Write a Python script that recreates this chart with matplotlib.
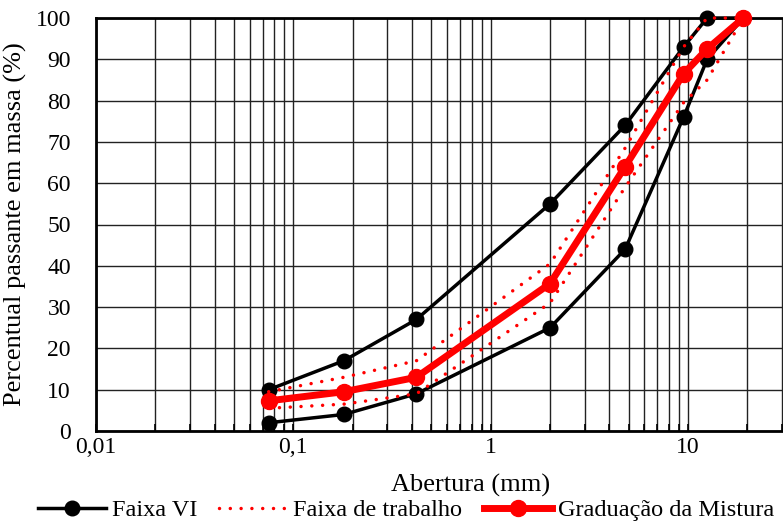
import matplotlib
matplotlib.use("Agg")
import matplotlib.pyplot as plt
from matplotlib.ticker import FixedLocator, FixedFormatter, LogLocator, NullFormatter

# Data
sieves = [0.075, 0.18, 0.42, 2.0, 4.8, 9.5, 12.5, 19.1]
faixa_vi_upper = [10, 17, 27, 55, 74, 93, 100, 100]
faixa_vi_lower = [2, 4, 9, 25, 44, 76, 90, 100]
trabalho_upper = [9.5, 13, 17, 40.5, 68.5, 93, 100, 100]
trabalho_lower = [5.5, 6.5, 9, 31, 59, 79.5, 85, 100]
mistura = [7.3, 9.5, 13, 35.7, 64, 86.5, 92.5, 100]

xticks = [0.01, 0.1, 1, 10]
xticklabels = ["0,01", "0,1", "1", "10"]
yticks = list(range(0, 101, 10))

plt.rcParams['font.family'] = ['Liberation Serif', 'DejaVu Serif']
plt.rcParams['font.size'] = 17

fig = plt.figure(figsize=(7.83, 5.21), dpi=100)
ax = fig.add_axes([96/783, 1 - 431/521, 1 - 96/783, (431 - 18)/521])

# Faixa VI
ax.plot(sieves, faixa_vi_upper, color='black', lw=2.5, marker='o', ms=10.5, zorder=3,
        clip_on=False)
ax.plot(sieves, faixa_vi_lower, color='black', lw=2.5, marker='o', ms=10.5, zorder=3,
        clip_on=False, label='Faixa VI')
# Faixa de trabalho
dot = (0, (0.01, 3.1))
ax.plot(sieves, trabalho_upper, color='red', lw=2.5, linestyle=dot,
        dash_capstyle='round', zorder=4, clip_on=False)
ax.plot(sieves, trabalho_lower, color='red', lw=2.5, linestyle=dot,
        dash_capstyle='round', zorder=4, clip_on=False, label='Faixa de trabalho')
# Mistura
ax.plot(sieves, mistura, color='red', lw=5, marker='o', ms=11.5, zorder=5,
        clip_on=False, label='Graduação da Mistura')

ax.set_xscale('log')
ax.set_xlim(0.01, 10 ** (1 + 95 / 197.3))
ax.set_ylim(0, 100)

ax.xaxis.set_major_locator(FixedLocator(xticks))
ax.xaxis.set_major_formatter(FixedFormatter(xticklabels))
ax.xaxis.set_minor_locator(LogLocator(base=10, subs=range(2, 10), numticks=20))
ax.xaxis.set_minor_formatter(NullFormatter())
ax.set_yticks(yticks)

ax.grid(True, which='both', axis='x', color='#222222', lw=1.0)
ax.grid(True, which='major', axis='y', color='#222222', lw=1.0)
ax.set_axisbelow(True)

ax.tick_params(axis='x', which='both', direction='in', length=5, width=1.2, pad=4)
ax.tick_params(axis='y', which='both', direction='in', length=0, pad=18)

for s in ['left', 'bottom', 'top']:
    ax.spines[s].set_linewidth(2)
    ax.spines[s].set_color('black')
ax.spines['right'].set_visible(False)

ax.set_ylabel('Percentual passante em massa (%)', fontsize=19, labelpad=6)
fig.text(471/783, 1 - 485/521, 'Abertura (mm)', ha='center', va='center', fontsize=19)

handles, labels = ax.get_legend_handles_labels()
fig.legend(handles, labels, loc='center', bbox_to_anchor=(406/783, 1 - 510/521),
           ncol=3, frameon=False, fontsize=17.5, handlelength=2.8, handletextpad=0.25,
           columnspacing=0.9, borderaxespad=0)

fig.savefig('out.png', dpi=100)
